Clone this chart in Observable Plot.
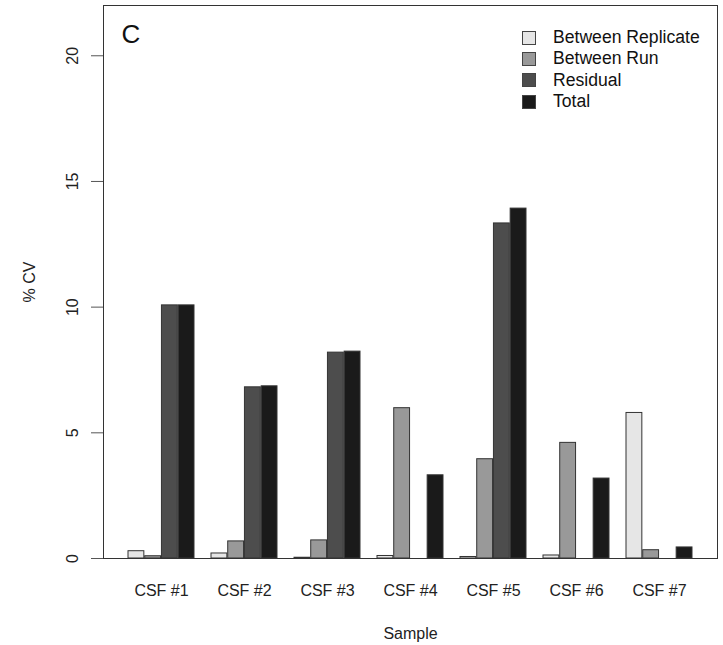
<!DOCTYPE html>
<html><head><meta charset="utf-8">
<script src="https://cdn.jsdelivr.net/npm/d3@7"></script>
<script src="https://cdn.jsdelivr.net/npm/@observablehq/plot@0.6"></script>
<style>
body{margin:0;background:#fff;font-family:"Liberation Sans",Arial,sans-serif}
#wrap{position:relative;width:723px;height:645px}
.legend{position:absolute;left:522px;top:27px;font-size:17.6px;color:#111;line-height:21.3px}
.legend .row{display:flex;align-items:center;height:21.3px}
.legend .sw{width:12px;height:12px;border:1px solid #444;margin-right:17px;flex:none}
</style></head><body><div id="wrap"></div>
<script>
const samples = ["CSF #1","CSF #2","CSF #3","CSF #4","CSF #5","CSF #6","CSF #7"];
const components = ["Between Replicate","Between Run","Residual","Total"];
const colors = ["#e6e6e6","#999999","#4d4d4d","#1a1a1a"];
const betweenReplicate = [0.29,0.20,0.03,0.10,0.06,0.12,5.79];
const betweenRun = [0.09,0.68,0.72,5.98,3.95,4.60,0.33];
const residual = [10.07,6.81,8.19,0,13.33,0,0];
const total = [10.07,6.85,8.23,3.31,13.92,3.18,0.44];
const yTicks = [0,5,10,15,20];
const panelLabel = "C";

const series = [betweenReplicate, betweenRun, residual, total];
const data = [];
samples.forEach((s, i) => components.forEach((c, j) => data.push({sample: s, component: c, value: series[j][i]})));

const W = 723, H = 645, mL = 103, mR = 6, mT = 5, mB = 87;
const xOpts = {type: "band", domain: samples, paddingInner: 0.2, paddingOuter: 0.272};
const bw = Plot.scale({x: {...xOpts, range: [mL, W - mR]}}).bandwidth;
const sub = bw / components.length;

const plot = Plot.plot({
  width: W, height: H,
  marginLeft: mL, marginRight: mR, marginTop: mT, marginBottom: mB,
  style: {fontFamily: "Liberation Sans, Arial, sans-serif", fontSize: "16px", color: "#222", background: "white"},
  x: {...xOpts, axis: null},
  y: {domain: [0, 22], axis: null},
  color: {domain: components, range: colors},
  marks: [
    ...components.map((c, j) => Plot.barY(data.filter(d => d.component === c), {
      x: "sample", y: "value", fill: "component", stroke: "#333", strokeWidth: 1,
      insetLeft: j * sub, insetRight: (components.length - 1 - j) * sub
    })),
    Plot.axisY({ticks: yTicks, tickSize: 12, tickRotate: -90, tickPadding: 14, label: "% CV", labelAnchor: "center", labelArrow: "none", labelOffset: 80, stroke: "#555"}),
    Plot.axisX({tickSize: 0, tickPadding: 26, label: "Sample", labelAnchor: "center", labelArrow: "none", labelOffset: 80}),
    Plot.frame({stroke: "#333"}),
    Plot.text([panelLabel], {frameAnchor: "top-left", dx: 18, dy: 19, fontSize: 26, fill: "#111"})
  ]
});
const wrap = document.getElementById("wrap");
wrap.appendChild(plot);
const legend = document.createElement("div");
legend.className = "legend";
components.forEach((c, j) => {
  const row = document.createElement("div");
  row.className = "row";
  const sw = document.createElement("span");
  sw.className = "sw";
  sw.style.background = colors[j];
  const t = document.createElement("span");
  t.textContent = c;
  row.appendChild(sw); row.appendChild(t);
  legend.appendChild(row);
});
wrap.appendChild(legend);
</script></body></html>
